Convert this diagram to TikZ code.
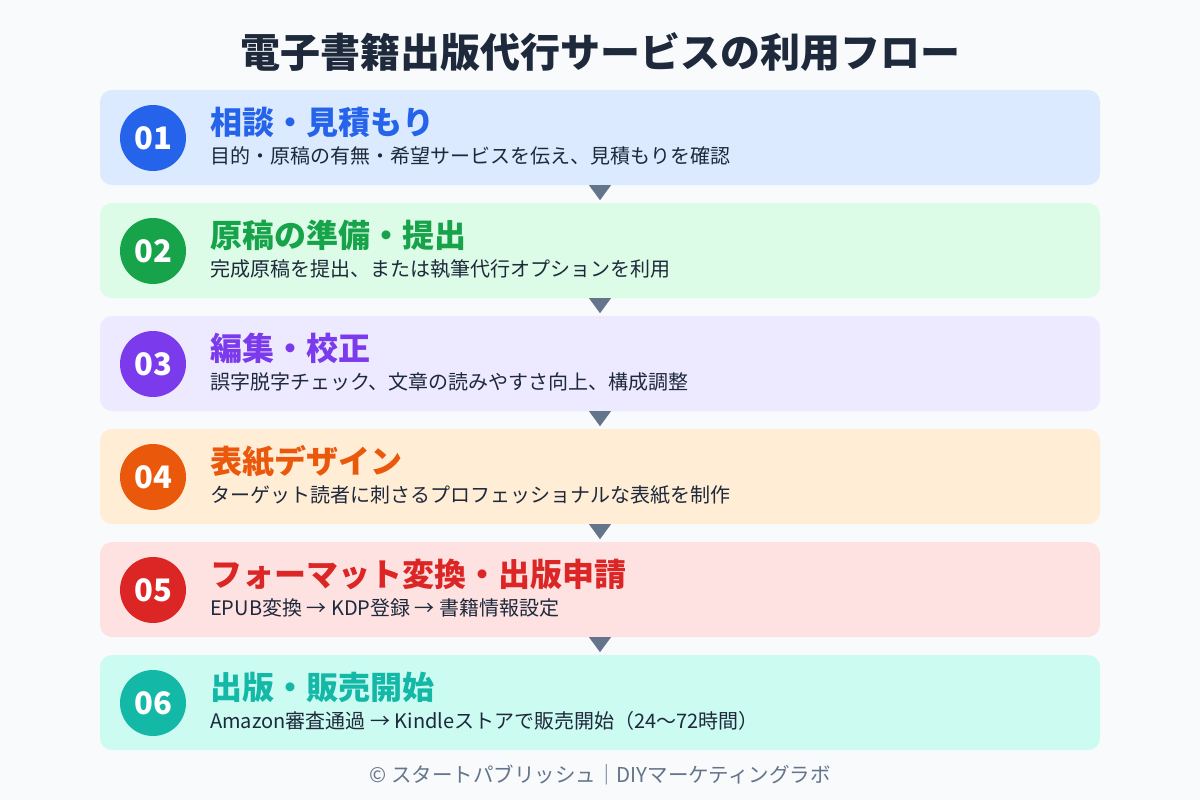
\documentclass[tikz,border=0pt]{standalone}
\usepackage{fontspec}
\setmainfont{Noto Sans CJK JP}
\usetikzlibrary{calc}
\definecolor{bgc}{HTML}{F8FAFC}
\definecolor{titlec}{HTML}{1E293B}
\definecolor{subc}{HTML}{1E293B}
\definecolor{footc}{HTML}{64748B}
\definecolor{arrc}{HTML}{64748B}
\definecolor{fA}{HTML}{DBEAFE}\definecolor{cA}{HTML}{2563EB}
\definecolor{fB}{HTML}{DCFCE7}\definecolor{cB}{HTML}{16A34A}
\definecolor{fC}{HTML}{EDE9FE}\definecolor{cC}{HTML}{7C3AED}
\definecolor{fD}{HTML}{FFEDD5}\definecolor{cD}{HTML}{EA580C}
\definecolor{fE}{HTML}{FEE2E2}\definecolor{cE}{HTML}{DC2626}
\definecolor{fF}{HTML}{CCFBF1}\definecolor{cF}{HTML}{14B8A6}
\tikzset{
  stepcard/.style={draw=none, rounded corners=12pt, minimum width=1000pt, minimum height=95pt, inner sep=0pt},
  numdisc/.style={circle, minimum size=66pt, inner sep=0pt},
  numtext/.style={text=white, font=\fontsize{31}{34}\selectfont\bfseries, inner sep=0pt},
  headtext/.style={anchor=base west, inner sep=0pt, font=\fontsize{32}{36}\selectfont\bfseries},
  subtext/.style={anchor=base west, inner sep=0pt, text=subc, font=\fontsize{20}{23}\selectfont},
  downtri/.style={fill=arrc},
}
\begin{document}
\begin{tikzpicture}[x=1pt,y=-1pt]
\fill[bgc] (0,0) rectangle (1200,800);
\useasboundingbox (0,0) rectangle (1200,800);
\node[text=titlec, font=\fontsize{40}{44}\selectfont\bfseries, inner sep=0pt] (title) at (600,52) {電子書籍出版代行サービスの利用フロー};
% cards
\foreach \i/\top/\f/\c/\n/\h/\s in {
 1/90/fA/cA/01/相談・見積もり/目的・原稿の有無・希望サービスを伝え、見積もりを確認,
 2/203/fB/cB/02/原稿の準備・提出/完成原稿を提出、または執筆代行オプションを利用,
 3/316/fC/cC/03/編集・校正/誤字脱字チェック、文章の読みやすさ向上、構成調整,
 4/429/fD/cD/04/表紙デザイン/ターゲット読者に刺さるプロフェッショナルな表紙を制作,
 5/542/fE/cE/05/フォーマット変換・出版申請/EPUB変換 → KDP登録 → 書籍情報設定,
 6/655/fF/cF/06/出版・販売開始/Amazon審査通過 → Kindleストアで販売開始（24～72時間）}{
  \node[stepcard, fill=\f] (b\i) at (600,\top+47.5) {};
  \node[numdisc, fill=\c] (c\i) at (153,\top+48) {};
  \node[numtext] (n\i) at (c\i.center) {\n};
  \node[headtext, text=\c] (h\i) at (210,\top+44) {\h};
  \node[subtext] (s\i) at (210,\top+73) {\s};
}
% arrows between cards
\foreach \a/\b in {1/2,2/3,3/4,4/5,5/6}{
  \coordinate (t\a) at ($(b\a.south)+(0,15)$);
  \fill[downtri] ($(b\a.south)+(-11,0)$) -- ($(b\a.south)+(11,0)$) -- (t\a) -- cycle;
}
\node[text=footc, font=\fontsize{20.5}{23}\selectfont, inner sep=0pt] (foot) at (600,775) {© スタートパブリッシュ｜DIYマーケティングラボ};
\end{tikzpicture}
\end{document}
